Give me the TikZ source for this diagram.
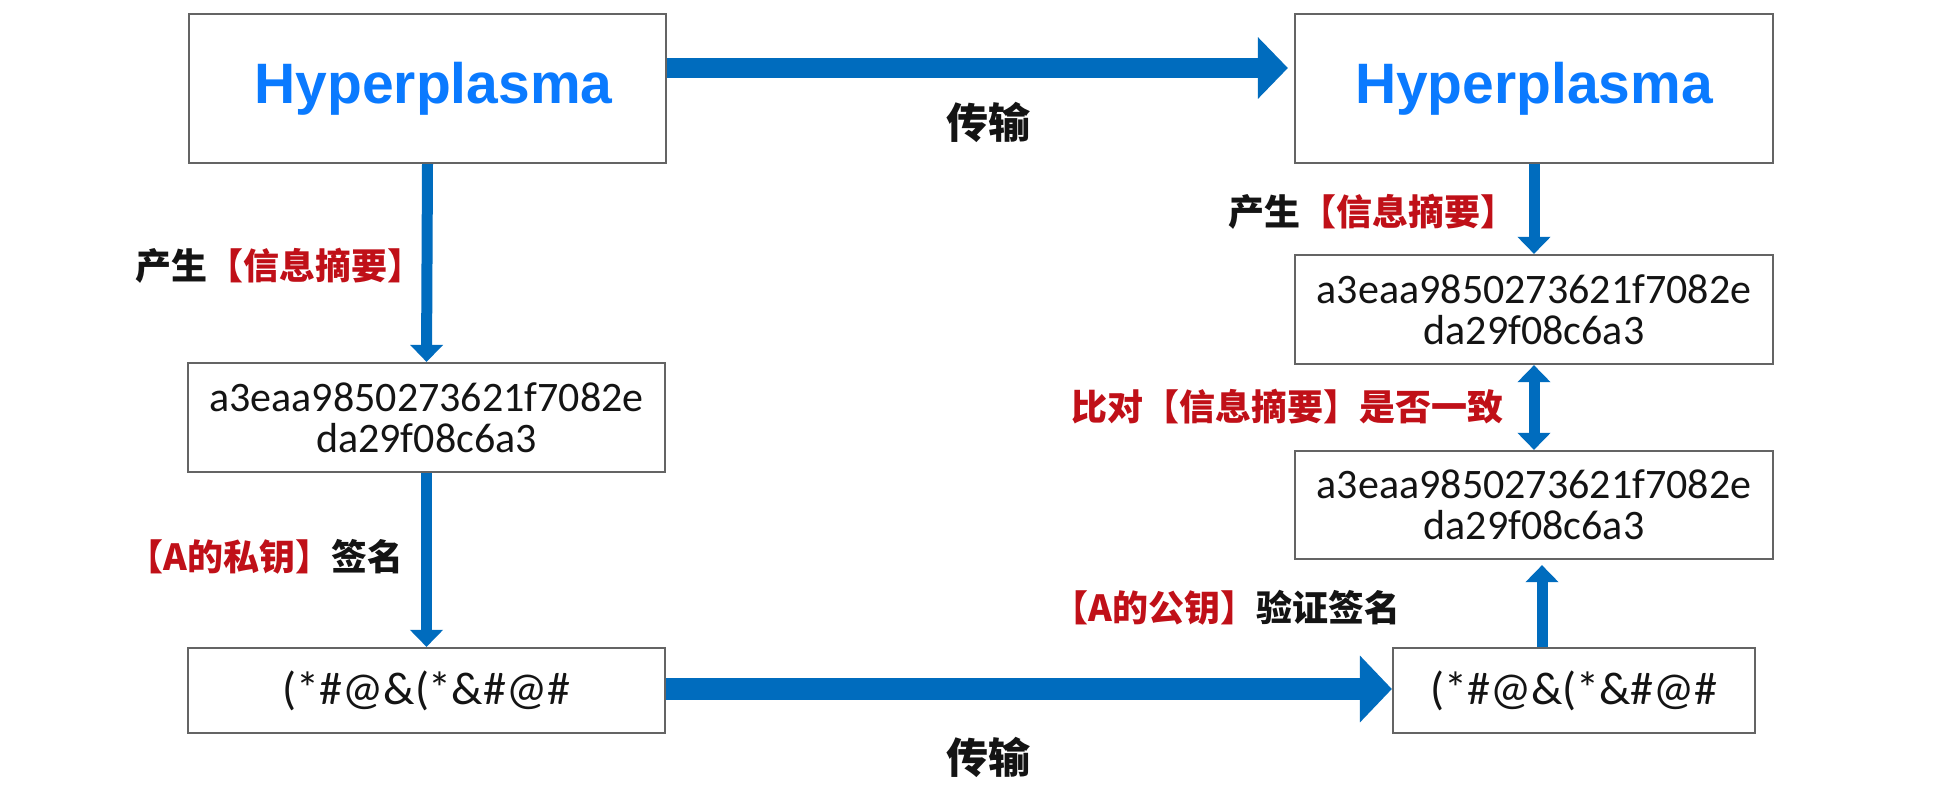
\documentclass[tikz,border=0pt]{standalone}
\usepackage{fontspec}
\usetikzlibrary{arrows.meta}
\newfontfamily\cjk{Noto Sans CJK SC}
\newfontfamily\hfont{Liberation Sans}
\newfontfamily\hashfont{Carlito}
\definecolor{arrowblue}{RGB}{0,108,190}
\definecolor{textblue}{RGB}{10,122,255}
\definecolor{labelred}{RGB}{192,16,24}
\definecolor{boxgray}{RGB}{100,100,100}
\definecolor{inkc}{RGB}{20,20,20}
\begin{document}
\begin{tikzpicture}[x=0.5pt,y=-0.5pt,
  box/.style={draw=boxgray, line width=1.1pt, fill=white, inner sep=0pt, align=center},
  titlebox/.style={box, font=\hfont\bfseries\fontsize{28.5}{30}\selectfont, text=textblue},
  hashbox/.style={box, font=\hashfont\fontsize{21}{20.5}\selectfont, text=inkc},
  sigbox/.style={box, font=\hashfont\fontsize{23}{24}\selectfont, text=inkc},
  lbl/.style={inner sep=0pt, font=\cjk\bfseries\fontsize{18}{20}\selectfont, text=inkc},
  bigarrow/.style={draw=arrowblue, line width=10pt, -{Triangle[length=15pt,width=30pt]}},
  smallarrow/.style={draw=arrowblue, line width=5.5pt, -{Triangle[length=8.5pt,width=16pt]}},
]
\useasboundingbox (0,0) rectangle (1950,784);
\fill[white] (0,0) rectangle (1950,784);

% boxes
\node[titlebox, minimum width=238.5pt, minimum height=74.5pt] (hA) at (427.5,88.5) {\hspace*{6pt}Hyperplasma};
\node[titlebox, minimum width=239pt, minimum height=74.5pt] (hB) at (1534,88.5) {Hyperplasma};
\node[hashbox, minimum width=238.5pt, minimum height=54.5pt] (dA) at (426.5,417.5) {a3eaa9850273621f7082e\\da29f08c6a3};
\node[sigbox, minimum width=238.5pt, minimum height=42.5pt] (sA) at (426.5,690.5) {(*\#@\&(*\&\#@\#};
\node[hashbox, minimum width=239pt, minimum height=54.5pt] (dB1) at (1534,309.5) {a3eaa9850273621f7082e\\da29f08c6a3};
\node[hashbox, minimum width=239pt, minimum height=54pt] (dB2) at (1534,505) {a3eaa9850273621f7082e\\da29f08c6a3};
\node[sigbox, minimum width=181pt, minimum height=42.5pt] (sB) at (1574,690.5) {(*\#@\&(*\&\#@\#};

% arrows
\draw[bigarrow] ([yshift=10.25pt]hA.east) -- ([yshift=10.25pt,xshift=-3pt]hB.west);
\draw[bigarrow, line width=11pt, -{Triangle[length=16pt,width=32.5pt]}] ([yshift=0.75pt]sA.east) -- ([yshift=0.75pt]sB.west);
\draw[smallarrow] (hA.south) -- (dA.north);
\draw[smallarrow] (dA.south) -- (sA.north);
\draw[smallarrow] (hB.south) -- (dB1.north);
\draw[smallarrow, {Triangle[length=8.5pt,width=16pt]}-{Triangle[length=8.5pt,width=16pt]}] (dB2.north) -- (dB1.south);
\coordinate (upStart) at ([xshift=-16pt]sB.north);
\coordinate (upTip) at ([xshift=4pt,yshift=-2.5pt]dB2.south);
\draw[smallarrow] (upStart) -- (upTip);

% labels
\node[lbl, font=\cjk\bfseries\fontsize{21}{22}\selectfont] (tT) at (988,122) {传输};
\node[lbl, font=\cjk\bfseries\fontsize{21}{22}\selectfont] (tB) at (988,757) {传输};
\node[lbl, anchor=west] (lA1) at (135,266) {产生\textcolor{labelred}{【信息摘要】}};
\node[lbl, anchor=west] (lA2) at (127,557) {\textcolor{labelred}{【A的私钥】}签名};
\node[lbl, anchor=west] (lB1) at (1228,212) {产生\textcolor{labelred}{【信息摘要】}};
\node[lbl, anchor=west, text=labelred] (lB2) at (1071,407) {比对【信息摘要】是否一致};
\node[lbl, anchor=west] (lB3) at (1052,608) {\textcolor{labelred}{【A的公钥】}验证签名};
\end{tikzpicture}
\end{document}
